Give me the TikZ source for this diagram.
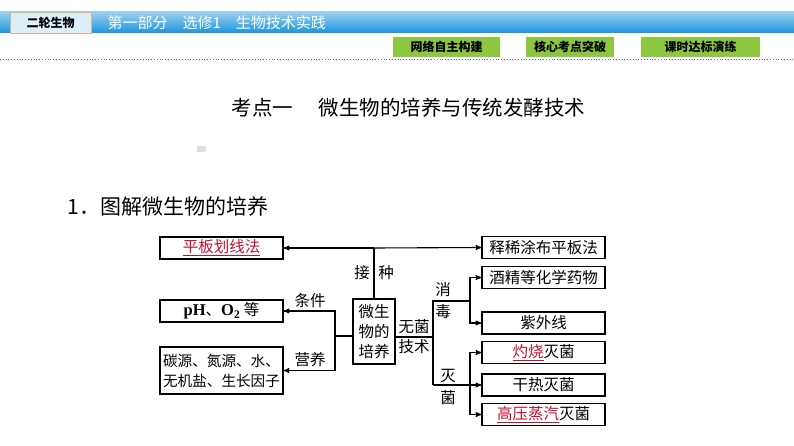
\documentclass[tikz,border=0pt]{standalone}
\usepackage{fontspec}
\setmainfont{Liberation Serif}
\newfontfamily\cjk{Noto Sans CJK SC}
\usepackage{xcolor}
\usetikzlibrary{arrows}
\definecolor{hong}{HTML}{C8102E}
\definecolor{lvse}{HTML}{8DC63F}
\definecolor{lanse}{HTML}{1B95DC}
\definecolor{qianlan}{HTML}{DDEEF9}
\definecolor{zise}{HTML}{6A5ACD}

\begin{document}
\begin{tikzpicture}[x=1pt,y=-1pt,>=stealth',line width=1.1pt,
  box/.style={draw,minimum width=123pt,minimum height=22pt,inner sep=0pt,
    font=\cjk\fontsize{15.5}{20}\selectfont},
  lab/.style={inner sep=0pt,font=\cjk\fontsize{15.5}{20}\selectfont},
  btn/.style={fill=lvse,minimum height=20pt,inner sep=0pt,
    font=\cjk\bfseries\fontsize{12}{14}\selectfont}]
  \useasboundingbox (0,0) rectangle (794,446);
  % header
  \shade[top color=lanse!45,bottom color=lanse] (0,12) rectangle (794,33);
  \node[fill=qianlan,draw=brown!60,line width=0.8pt,minimum width=81pt,minimum height=21pt,
    inner sep=0pt,font=\cjk\bfseries\fontsize{12}{14}\selectfont] (erlun) at (50.5,22.5) {二轮生物};
  \node[anchor=west,text=white,inner sep=0pt,font=\cjk\fontsize{15}{17}\selectfont] (bufen)
    at (107,23) {第一部分\quad 选修1\quad 生物技术实践};
  \node[btn,minimum width=107pt] (wangluo) at (446.5,47) {网络自主构建};
  \node[btn,minimum width=88pt] (hexin) at (570,47) {核心考点突破};
  \node[btn,minimum width=119pt] (keshi) at (700.5,47) {课时达标演练};
  \draw[zise,dotted,line width=0.8pt] (0,59) -- (794,59);
  \fill[gray!25] (197,146) rectangle (206,152);
  \node[inner sep=0pt,font=\cjk\fontsize{20.5}{22}\selectfont] (biaoti) at (408.5,108)
    {考点一\quad\ 微生物的培养与传统发酵技术};
  \node[anchor=west,inner sep=0pt,font=\cjk\fontsize{21}{23}\selectfont] (tujie) at (67,206)
    {1．图解微生物的培养};

  % boxes
  \node[box] (pbhx) at (221.5,248) {\color{hong}\underline{平板划线法}};
  \node[box] (xstb) at (543.5,247.5) {释稀涂布平板法};
  \node[box,minimum width=42pt,minimum height=65pt,align=center] (pyang) at (374,331.5)
    {微生\\物的\\培养};
  \node[box] (ph) at (221.5,311) {{\rmfamily\bfseries\fontsize{16.5}{20}\selectfont pH}、{\rmfamily\bfseries\fontsize{16.5}{20}\selectfont O\textsubscript{2}} 等};
  \node[box,minimum height=47pt,align=center,font=\cjk\fontsize{14.6}{20}\selectfont] (tanyuan)
    at (221.5,370.5) {碳源、氮源、水、\\无机盐、生长因子};
  \node[box] (jiujing) at (543.5,277.5) {酒精等化学药物};
  \node[box] (ziwai) at (543.5,323) {紫外线};
  \node[box] (zhuoshao) at (543.5,352.5) {{\color{hong}\underline{灼烧}}灭菌};
  \node[box] (ganre) at (543.5,385) {干热灭菌};
  \node[box] (gaoya) at (543.5,414.5) {{\color{hong}\underline{高压蒸汽}}灭菌};

  \coordinate (jz) at (374,248);
  \coordinate (zuo) at (335,336);
  \coordinate (wj) at (433,337);
  \coordinate (xd) at (433,301);
  \coordinate (xd2) at (470,301);
  \coordinate (mj) at (433,385);
  \coordinate (mj2) at (470,385);

  % connectors
  \draw (pyang.north) -- (jz);
  \draw[->] (jz) -- (pbhx.east);
  \draw[->] (jz) -- (xstb.west);
  \draw (pyang.west |- zuo) -- (zuo);
  \draw[->] (zuo) |- (ph.east);
  \draw[->] (zuo) |- (tanyuan.east);
  \draw (pyang.east |- wj) -- (wj);
  \draw (xd2) -- (xd) -- (mj);
  \draw[->] (mj) -- (ganre.west);
  \draw[->] (xd2) |- (jiujing.west);
  \draw[->] (xd2) |- (ziwai.west);
  \draw[->] (mj2) |- (zhuoshao.west);
  \draw[->] (mj2) |- (gaoya.west);

  % labels
  \node[lab] (jie) at (362,273) {接};
  \node[lab] (zhong) at (386,273) {种};
  \node[lab] (tiaojian) at (310,301) {条件};
  \node[lab] (yingyang) at (310,360) {营养};
  \node[lab] (wujun) at (414,327) {无菌};
  \node[lab] (jishu) at (414,347) {技术};
  \node[lab] (xiao) at (443,290) {消};
  \node[lab] (du) at (443,312) {毒};
  \node[lab] (mie) at (448,376) {灭};
  \node[lab] (jun) at (448,398) {菌};
\end{tikzpicture}
\end{document}
